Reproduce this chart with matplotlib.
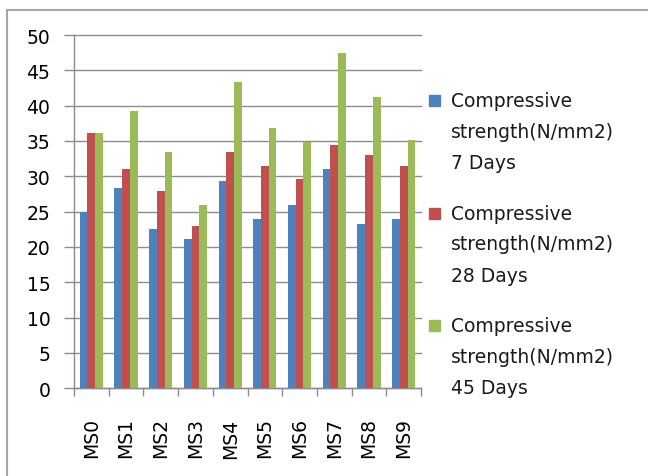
import numpy as np
import matplotlib
matplotlib.use("Agg")
import matplotlib.pyplot as plt
from matplotlib.lines import Line2D
from matplotlib.patches import Rectangle

# Mix designs and compressive strength (N/mm2) at each curing age
mixes = ["MS0", "MS1", "MS2", "MS3", "MS4", "MS5", "MS6", "MS7", "MS8", "MS9"]
days_7 = [25.0, 28.4, 22.5, 21.1, 29.3, 23.9, 25.9, 31.0, 23.3, 23.9]
days_28 = [36.1, 31.0, 27.9, 23.0, 33.5, 31.5, 29.6, 34.4, 33.0, 31.5]
days_45 = [36.1, 39.2, 33.5, 25.9, 43.4, 36.9, 34.9, 47.4, 41.2, 35.2]
series_labels = [
    ["Compressive", "strength(N/mm2)", "7 Days"],
    ["Compressive", "strength(N/mm2)", "28 Days"],
    ["Compressive", "strength(N/mm2)", "45 Days"],
]
colors = ["#4F81BD", "#C0504D", "#9BBB59"]

plt.rcParams["font.family"] = "DejaVu Sans"

W, H = 648, 477
fig = plt.figure(figsize=(W / 100, H / 100), dpi=100)
ax = fig.add_axes([74 / W, 1 - 389.3 / H, 347 / W, 353.3 / H])

x = np.arange(len(mixes))
bw = 1 / 4.5
for k, vals in enumerate([days_7, days_28, days_45]):
    ax.bar(x + (k - 1) * bw, vals, width=bw, color=colors[k], zorder=3)

ax.set_xlim(-0.5, len(mixes) - 0.5)
ax.set_ylim(0, 50)
ax.set_yticks(np.arange(0, 51, 5))
ax.yaxis.grid(True, color="#8c8c8c", linewidth=1.0, zorder=0)
ax.tick_params(axis="y", direction="out", length=7, width=1.0, color="#8c8c8c",
               labelsize=13.5, pad=10)

# category boundaries get the tick marks, labels sit at the centres
ax.set_xticks(np.arange(-0.5, len(mixes), 1.0))
ax.set_xticklabels([])
ax.set_xticks(x, minor=True)
ax.set_xticklabels(mixes, minor=True, rotation=90, fontsize=13.5)
ax.tick_params(axis="x", which="major", direction="out", length=6, width=1.0, color="#8c8c8c")
ax.tick_params(axis="x", which="minor", length=0, pad=21)

for side in ["top", "right"]:
    ax.spines[side].set_visible(False)
for side in ["left", "bottom"]:
    ax.spines[side].set_color("#8c8c8c")
    ax.spines[side].set_linewidth(1.0)

# clip the y gridlines so they start at the tick marks, like the chart
for gl in ax.get_ygridlines():
    gl.set_clip_on(False)

# legend, drawn by hand so the swatch sits on the first line
entry_y = [101.5, 214.0, 326.5]
for k, lines in enumerate(series_labels):
    y0 = entry_y[k]
    fig.patches.append(Rectangle(((429 - 0) / W, 1 - (y0 + 5.5) / H), 11 / W, 11 / H,
                                 transform=fig.transFigure, color=colors[k]))
    for i, txt in enumerate(lines):
        fig.text(451 / W, 1 - (y0 + i * 31) / H, txt, fontsize=13.5,
                 ha="left", va="center", color="#1a1a1a")

# outer chart frame
fig.add_artist(Line2D([7 / W, 7 / W], [0, 1 - 11 / H], color="#a6a6a6", linewidth=1.5,
                      transform=fig.transFigure))
fig.add_artist(Line2D([7 / W, 1], [1 - 11 / H, 1 - 11 / H], color="#a6a6a6", linewidth=1.5,
                      transform=fig.transFigure))

fig.savefig("out.png", dpi=100)
